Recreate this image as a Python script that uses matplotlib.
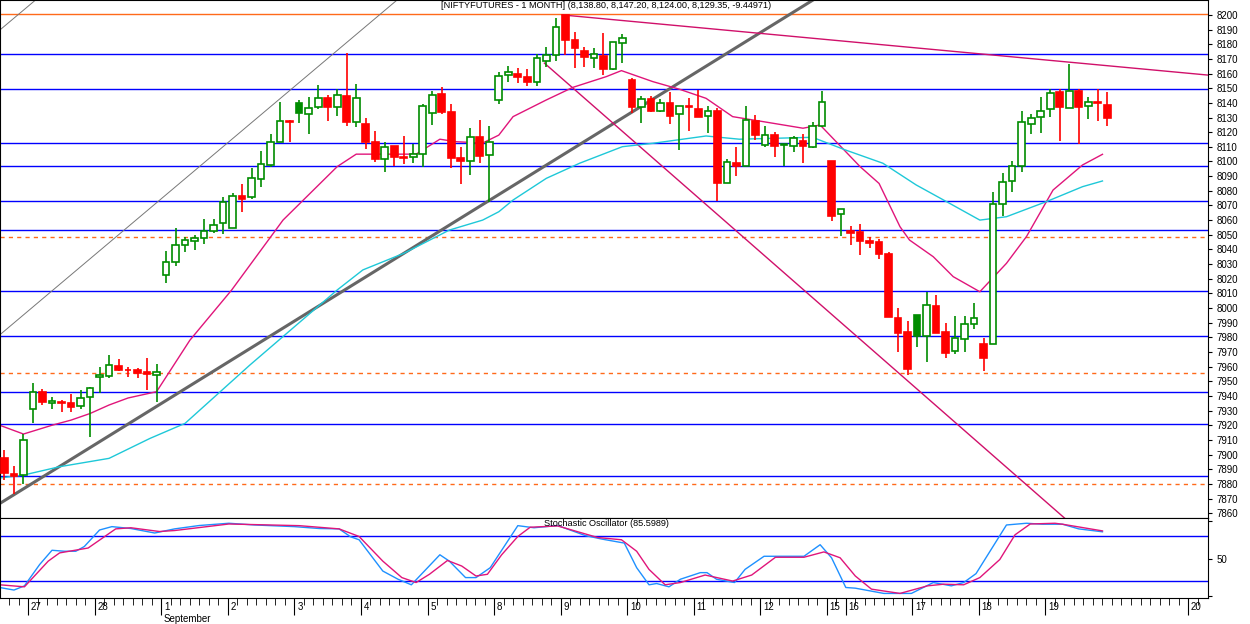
import numpy as np
import matplotlib.pyplot as plt
import matplotlib.transforms as mtransforms

# hourly candles, index 0..116
opens = [7897.4, 7886.7, 7886, 7931, 7942.6, 7935.2, 7935.5, 7935.4, 7933.3, 7939, 7952.7, 7953.8, 7960.4, 7957.6, 7957.7, 7956, 7954,
         8022.5, 8031.2, 8042.8, 8045.5, 8047.6, 8052.8, 8057.8, 8054.4, 8076.5, 8076, 8087.8, 8097.6, 8113.1, 8127.6, 8132.9, 8132.4,
         8137, 8143, 8137, 8144.7, 8127.2, 8125.6, 8113.5, 8101.5, 8110.6, 8103.3, 8102.9, 8104.9, 8132.9, 8146.1, 8134, 8102.2, 8100.5,
         8116.5, 8104.2, 8142, 8158.8, 8159.7, 8157.5, 8154.5, 8168.8, 8172.7, 8200, 8183, 8175.4, 8170.4, 8172, 8162.9, 8180.7,
         8155.6, 8137, 8142.5, 8134.7, 8140.1, 8132.4, 8137.6, 8135.8, 8131.1, 8134.5, 8085.1, 8098.8, 8097.1, 8127.8, 8111.3, 8118.1,
         8111.2, 8110.8, 8114.2, 8110.1, 8124.4, 8100.3, 8064, 8052.8, 8051.9, 8045.7, 8045, 8036.9, 7993.4, 7983.6, 7981.1, 7981.1,
         8001.4, 7983.6, 7970.6, 7978.6, 7988.9, 7975.2, 7975.2, 8070.8, 8086.9, 8097.1, 8125.6, 8130.2, 8135.6, 8147.6, 8136.3,
         8148.1, 8137.9, 8139.9, 8138.8]
highs = [7903, 7892, 7914, 7949, 7944.5, 7939, 7937, 7941, 7944, 7946.3, 7959.7, 7968, 7965, 7959.5, 7959, 7965.7, 7961.8,
         8039, 8054.4, 8048.7, 8049.8, 8060.7, 8060.7, 8076, 8078.3, 8084.6, 8095.4, 8107.2, 8118.8, 8140.8, 8128.3, 8142, 8144.2,
         8152.2, 8145.4, 8149.3, 8173.9, 8152.9, 8129.5, 8121, 8113.1, 8110.6, 8117.4, 8112, 8139.2, 8148.3, 8151, 8139.2, 8110.1, 8122.6,
         8128.3, 8124.2, 8161.3, 8165.2, 8163.6, 8163, 8173.4, 8178.4, 8197.7, 8200, 8188.6, 8178.4, 8177.3, 8187.9, 8181.4, 8187,
         8156.8, 8144.7, 8144.7, 8142.5, 8147.2, 8137.9, 8143.1, 8148.8, 8137.9, 8136.3, 8101.7, 8109.7, 8137.9, 8131.7, 8124.2, 8120.4,
         8111.3, 8117.4, 8118.8, 8127.2, 8148.3, 8100.3, 8067.6, 8056, 8057.3, 8048.7, 8046.9, 8038.4, 8000.2, 7991.1, 7995.2, 8011.1,
         8008.9, 7989.5, 7994.5, 7994.5, 8003.2, 7979.3, 8079, 8091.9, 8100.3, 8134.5, 8132.4, 8144.2, 8149.3, 8149.3, 8166.6,
         8149.3, 8144.2, 8149.3, 8147.2]
lows = [7882.6, 7873, 7880, 7921.5, 7933.8, 7931, 7929, 7929, 7931, 7912, 7942, 7952, 7957.2, 7952.7, 7952, 7944, 7936,
        8017.3, 8029, 8038.4, 8039.6, 8043.7, 8051, 8050.5, 8054.4, 8065.7, 8074.4, 8082.8, 8096.5, 8113.1, 8113.5, 8126, 8118.8,
        8135.6, 8127.9, 8131, 8124.4, 8123.8, 8108.3, 8099.9, 8093, 8096.9, 8098.3, 8099.2, 8096, 8124.9, 8132.4, 8095.4, 8084.6, 8090.8,
        8098.8, 8072.6, 8139.2, 8154.5, 8153.4, 8151.5, 8151.5, 8164.7, 8168.8, 8172.7, 8163.6, 8164.7, 8164, 8159, 8162.5, 8167,
        8132.9, 8126.5, 8134, 8134, 8125.6, 8107.8, 8121, 8130.6, 8119.2, 8073, 8085.1, 8090.3, 8097.1, 8114.7, 8110, 8102.9,
        8097.1, 8106.3, 8098.8, 8109, 8123.8, 8059.6, 8049, 8043, 8036.2, 8041, 8033.2, 7994.1, 7969.8, 7954.3, 7973.6, 7963.3,
        7983.1, 7966, 7968.4, 7970.2, 7985.5, 7957.2, 7975.2, 8063, 8079.4, 8093, 8118.6, 8119.2, 8130.6, 8114.2, 8136.3,
        8111.7, 8129, 8127.9, 8124]
closes = [7887.1, 7885.3, 7910, 7943, 7935.8, 7936.5, 7935, 7932.6, 7938.6, 7945.4, 7954.3, 7961, 7957.7, 7957.4, 7955.8, 7954.7, 7956,
          8031.2, 8043, 8046.2, 8047.6, 8052.8, 8056.5, 8072.6, 8076.5, 8074.3, 8088.5, 8098.3, 8113.1, 8127.6, 8126.9, 8140.1, 8136.7,
          8143, 8137.4, 8145.2, 8127.2, 8143.1, 8113.5, 8101.5, 8110.1, 8103.3, 8102.6, 8104.9, 8137.9, 8145.4, 8134, 8102.2, 8100.5, 8116.5,
          8103.8, 8113.1, 8158.4, 8161.3, 8157.9, 8154.5, 8170.4, 8172.7, 8192, 8183, 8177.3, 8171.5, 8173.4, 8162.9, 8181.4, 8184.1,
          8137.4, 8142.5, 8134.7, 8139.7, 8131.1, 8137.9, 8137.4, 8130.6, 8134.5, 8085.5, 8099.5, 8096.9, 8128.3, 8118.1, 8118.1, 8110.8,
          8111.3, 8115.8, 8110.8, 8124.4, 8140.8, 8062.8, 8067.6, 8051.4, 8045.9, 8044.4, 8036.7, 7994.1, 7983.1, 7958.1, 7995.2, 8002.1,
          7983.1, 7969.5, 7979.7, 7988.9, 7993, 7965.7, 8070.8, 8086.2, 8097.1, 8126.8, 8129.5, 8134.5, 8147, 8137.4, 8148.1,
          8137.4, 8140.4, 8139.7, 8129.35]
filled_up = [31, 96]

# moving averages
ma_fast_x = [-0.5, 2, 5, 7, 9, 11, 13, 16, 19.5, 23.9, 29.3, 35, 37, 43.3, 45.8, 47.5, 50.3, 52, 53.5, 57, 59.8, 63.3, 64.9,
             68.2, 71, 73.8, 76.6, 79.8, 84, 85.8, 90, 92, 94.2, 95.2, 97.7, 99.8, 102.6, 105.4, 107.5, 110.3, 113.4, 115.5]
ma_fast_y = [7920, 7914, 7920, 7923.5, 7928, 7933.8, 7938.6, 7942.9, 7978, 8012.3, 8060, 8096.5, 8105, 8105, 8115.2, 8113.5,
             8112.6, 8118, 8130.6, 8142, 8150.6, 8157.9, 8162, 8154.5, 8149.3, 8143.1, 8130.6, 8127.2, 8122.7, 8124.9, 8096.5, 8085,
             8055.5, 8046.4, 8035, 8021.4, 8011.1, 8030.5, 8048.7, 8080.5, 8097.6, 8104.9]
ma_slow_x = [-0.5, 2, 5.8, 11, 15.3, 19, 25.8, 35, 37.7, 42, 46.8, 50.3, 52, 53.5, 57, 60.5, 65, 68.2, 73.8, 77.3, 85, 88.4,
             92.4, 95.9, 99.4, 102.6, 105.4, 109.6, 113.4, 115.5]
ma_slow_y = [7884, 7886, 7891.7, 7897.4, 7911, 7921.3, 7961, 8012.3, 8026, 8037.3, 8053.2, 8060, 8065.7, 8073.7, 8088.5, 8098.8,
             8110.1, 8112.4, 8117.4, 8115.2, 8116.5, 8108, 8098.8, 8084, 8071.5, 8060, 8062.3, 8072.6, 8082.8, 8086.7]

# stochastic oscillator
k_x = [-0.5, 1.0, 2.1, 3.7, 5.0, 6.3, 7.5, 8.4, 10.0, 11.3, 13.3, 15.8, 17.9, 20.5, 23.6, 26.3, 30.5, 33.1, 35.2, 36.4, 37.3,
       39.8, 41.4, 42.8, 45.8, 46.8, 48.5, 49.6, 51.1, 54.0, 55.7, 58.2, 61.1, 62.8, 65.2, 66.5, 67.8, 68.6, 69.9, 71.1, 73.2,
       73.9, 74.9, 76.8, 77.9, 79.9, 82.0, 84.1, 85.8, 87.0, 88.5, 89.5, 92.5, 95.4, 97.7, 99.6, 100.9, 102.2, 105.4, 107.5,
       109.2, 111.3, 113.0, 115.5]
k_y = [11.4, 8, 13.6, 42, 61, 59.7, 59.7, 66, 88, 92.5, 90, 84, 89.5, 94, 97, 94.7, 92.5, 90, 89.5, 79, 75, 33.3, 22.4, 15,
       55, 46.5, 24.6, 24.6, 37.8, 93.8, 91, 94, 80.6, 76, 70.6, 37.8, 15, 16.7, 12.3, 22.4, 31.2, 31.2, 22.4, 18, 35.5, 53, 53,
       53, 68.4, 51, 11.4, 10.5, 3.5, 3.5, 18, 13.6, 18, 29.9, 94.7, 97, 95.7, 95.7, 89.5, 85.6]
d_x = [-0.5, 2.1, 4.6, 5.8, 8.8, 11.7, 13.3, 16.3, 17.9, 23.6, 31.0, 35.2, 37.3, 39.8, 41.8, 43.3, 44.7, 46.6, 48.1, 49.6, 50.8,
       52.3, 54.0, 55.3, 58.2, 62.4, 64.9, 66.5, 67.8, 69.5, 71.1, 73.7, 76.6, 78.6, 81.1, 84.1, 86.2, 87.9, 89.5, 91.2, 94.2,
       97.1, 98.8, 100.9, 102.6, 104.7, 106.3, 107.9, 110.5, 111.3, 115.5]
d_y = [15, 12.3, 46.5, 57.5, 64, 89.5, 91, 86, 87.3, 96, 93.8, 89.5, 79.4, 46.5, 24.6, 18, 29, 47.4, 40, 26.7, 29, 55, 79.4, 91.7,
       93.4, 78, 75, 59.7, 35.5, 15, 18, 28, 20, 28, 51.7, 51.7, 58.8, 51, 26.7, 9.2, 3.5, 13.6, 15.8, 15, 24.6, 48.7, 81.6, 96,
       97, 95.7, 86.8]

blue_levels = [8173.3, 8149.4, 8112.5, 8096.8, 8072.8, 8053.2, 8011.6, 7981, 7942.9, 7920.7, 7885.1]
orange_dashed = [8048.7, 7955.4, 7879.7]
orange_solid = 8200.5

day_labels = ['27', '28', '1', '2', '3', '4', '5', '8', '9', '10', '11', '12', '15', '16', '17', '18', '19', '20']
day_starts = [2.5, 9.5, 16.5, 23.5, 30.5, 37.5, 44.5, 51.5, 58.5, 65.5, 72.5, 79.5, 86.5, 88.5, 95.5, 102.5, 109.5, 124.5]

plt.rcParams['font.family'] = ['Liberation Sans', 'DejaVu Sans']
fig = plt.figure(figsize=(12.5, 6.24), dpi=100)
W = 1208 / 1250
ax = fig.add_axes([0, 1 - 518 / 624, W, 518 / 624])
ax2 = fig.add_axes([0, 1 - 598 / 624, W, 80 / 624], sharex=ax)

xmin, xmax = -0.47, 126.6
ax.set_xlim(xmin, xmax)
ax.set_ylim(7856.7, 8210.2)

for lv in blue_levels:
    ax.axhline(lv, color='#0000FF', lw=1, zorder=1)
for lv in orange_dashed:
    ax.axhline(lv, color='#FF6A1A', lw=1, ls=(0, (3, 3)), zorder=1)
ax.axhline(orange_solid, color='#FF6A1A', lw=1, zorder=1)

# trend lines
ax.plot([-0.47, 85.05], [7866.7, 8210.2], color='#666666', lw=2.2, zorder=2)
ax.plot([-0.47, 41.3], [7981.8, 8210.2], color='#777777', lw=0.7, zorder=2)
ax.plot([-0.47, 3.27], [8189.8, 8210.2], color='#777777', lw=0.7, zorder=2)
ax.plot([58.7, 131], [8200, 8156.3], color='#D0106A', lw=1, zorder=2)
ax.plot([56.8, 111.5], [8167.1, 7856.7], color='#D0106A', lw=1, zorder=2)

ax.plot(ma_fast_x, ma_fast_y, color='#E0157A', lw=1, zorder=2)
ax.plot(ma_slow_x, ma_slow_y, color='#1EC8D8', lw=1, zorder=2)

# candles
w = 0.7
for i in range(len(opens)):
    o, h, l, c = opens[i], highs[i], lows[i], closes[i]
    up = c >= o
    col = '#008C00' if up else '#FF0000'
    face = col if (not up or i in filled_up) else 'white'
    ax.vlines(i, l, h, color=col, lw=1.2, zorder=3)
    lo = min(o, c)
    ht = max(abs(c - o), 0.6)
    ax.bar(i, ht, bottom=lo, width=w, color=face, edgecolor=col, lw=1.2, zorder=4)

ax.yaxis.tick_right()
ax.set_yticks(np.arange(7860, 8201, 10))
ax.tick_params(axis='y', labelsize=7, length=3, pad=3)
ax.tick_params(axis='x', bottom=False, labelbottom=False)
ax.text(606 / 1208, 1 - 6 / 518,
        '[NIFTYFUTURES - 1 MONTH] (8,138.80, 8,147.20, 8,124.00, 8,129.35, -9.44971)',
        transform=ax.transAxes, ha='center', va='center', fontsize=6.6, zorder=6)

# stochastic panel
ax2.set_ylim(-2.6, 104)
ax2.axhline(80, color='#0000FF', lw=1)
ax2.axhline(20, color='#0000FF', lw=1)
ax2.plot(k_x, k_y, color='#1E90FF', lw=1)
ax2.plot(d_x, d_y, color='#E0157A', lw=1)
ax2.text(606 / 1208, 0.93, 'Stochastic Oscillator (85.5989)', transform=ax2.transAxes,
         ha='center', va='center', fontsize=6.6)
ax2.yaxis.tick_right()
ax2.set_yticks([0, 50, 100])
ax2.set_yticklabels(['', '50', ''])
ax2.tick_params(axis='y', labelsize=7, length=3)

ax2.set_xticks(day_starts)
ax2.set_xticklabels(day_labels)
for lbl in ax2.get_xticklabels():
    lbl.set_horizontalalignment('left')
ax2.set_xticks(np.arange(0.5, 126, 1), minor=True)
ax2.tick_params(axis='x', which='major', length=12, labelsize=7, pad=-9, direction='out')
ax2.tick_params(axis='x', which='minor', length=5, direction='out')
offset = mtransforms.ScaledTranslation(2 / 72, 0, fig.dpi_scale_trans)
for lbl in ax2.get_xticklabels():
    lbl.set_transform(lbl.get_transform() + offset)
trans = mtransforms.blended_transform_factory(ax2.transData, fig.transFigure)
ax2.text(16.7, 1 - 619 / 624, 'September', transform=trans, fontsize=7, ha='left', va='center')

fig.savefig('out.png', dpi=100)
